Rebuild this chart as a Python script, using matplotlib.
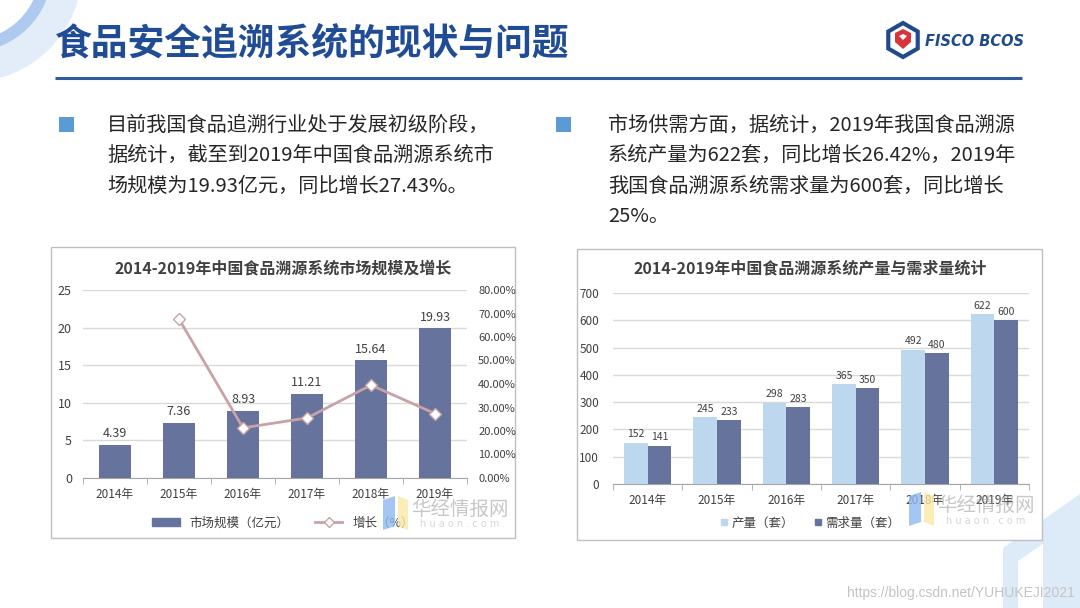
import numpy as np
import matplotlib
matplotlib.use("Agg")
import matplotlib.pyplot as plt
from matplotlib.patches import Rectangle, Polygon, Wedge, RegularPolygon, Patch
from matplotlib.lines import Line2D
from matplotlib.ticker import FuncFormatter, MultipleLocator

plt.rcParams["font.family"] = ["Noto Sans CJK SC", "DejaVu Sans"]

# ── Data ──────────────────────────────────────────────────────────────────────
years = ["2014年", "2015年", "2016年", "2017年", "2018年", "2019年"]
market_size = [4.39, 7.36, 8.93, 11.21, 15.64, 19.93]          # 亿元
growth_pct = [np.nan, 67.65, 21.33, 25.53, 39.52, 27.43]      # %
output_sets = [152, 245, 298, 365, 492, 622]                  # 产量（套）
demand_sets = [141, 233, 283, 350, 480, 600]                  # 需求量（套）

slide_title = "食品安全追溯系统的现状与问题"
left_text = [
    "目前我国食品追溯行业处于发展初级阶段，",
    "据统计，截至到2019年中国食品溯源系统市",
    "场规模为19.93亿元，同比增长27.43%。",
]
right_text = [
    "市场供需方面，据统计，2019年我国食品溯源",
    "系统产量为622套，同比增长26.42%，2019年",
    "我国食品溯源系统需求量为600套，同比增长",
    "25%。",
]
left_title = "2014-2019年中国食品溯源系统市场规模及增长"
right_title = "2014-2019年中国食品溯源系统产量与需求量统计"

W, H = 1080, 608
BAR_DARK = "#65739D"
BAR_LIGHT = "#BDD7EE"
LINE_PINK = "#C9A2A7"
GRID = "#D9D9D9"
AXIS = "#A6A6A6"
TXT = "#404040"
NAVY = "#1F4C95"


def frac(x0, y_top, x1, y_bot):
    """pixel box -> figure fraction [left, bottom, width, height]"""
    return [x0 / W, 1 - y_bot / H, (x1 - x0) / W, (y_bot - y_top) / H]


fig = plt.figure(figsize=(W / 100, H / 100), dpi=100)

# ── Background layer (pixel coordinates) ──────────────────────────────────────
bg = fig.add_axes([0, 0, 1, 1], zorder=-5)
bg.set_xlim(0, W)
bg.set_ylim(H, 0)
bg.axis("off")

# decorative arcs top-left
bg.add_patch(Wedge((-30, -30), 112, 0, 90, width=40, color="#E3EDF9", lw=0))
bg.add_patch(Wedge((-30, -30), 82, 0, 90, width=12, color="#AECBEF", lw=0))
# decorative band bottom-right
bg.add_patch(Polygon([(1003, 608), (1003, 548), (1080, 494), (1080, 518),
                      (1018, 561), (1018, 608)], closed=True, color="#DDEAF8", lw=0))
bg.add_patch(Polygon([(1043, 608), (1043, 535), (1080, 510), (1080, 608)],
                     closed=True, color="#DDEAF8", lw=0))

# slide title + rule
bg.text(55, 44, slide_title, fontsize=26.5, fontweight="bold", color=NAVY,
        va="center", ha="left")
bg.plot([55, 1022], [78, 78], color="#2F5D9B", lw=2.2, solid_capstyle="butt")

# logo
bg.add_patch(RegularPolygon((903, 40), numVertices=6, radius=17, orientation=0,
                            facecolor="white", edgecolor="#1F4A8C", lw=3))
bg.add_patch(Polygon([(895, 33), (903, 29), (911, 33), (911, 42), (903, 49),
                      (895, 42)], closed=True, color="#D8353B", lw=0))
bg.add_patch(Polygon([(899, 36), (903, 34), (907, 36), (903, 40)], closed=True,
                     color="white", lw=0))
bg.text(925, 41, "FISCO BCOS", fontsize=10.5, fontweight="bold", style="italic",
        color="#1F4A8C", va="center", ha="left", family="DejaVu Sans")

# bullets and paragraphs
bg.add_patch(Rectangle((59, 117), 15, 15, color="#5B9BD5", lw=0))
bg.add_patch(Rectangle((556, 117), 15, 15, color="#5B9BD5", lw=0))
for i, line in enumerate(left_text):
    bg.text(107, 125 + i * 30.5, line, fontsize=14.5, color="#262626",
            va="center", ha="left")
for i, line in enumerate(right_text):
    bg.text(608, 125 + i * 30.5, line, fontsize=14.5, color="#262626",
            va="center", ha="left")

# chart frames
bg.add_patch(Rectangle((51, 247), 464, 291, facecolor="white",
                       edgecolor="#BFBFBF", lw=1))
bg.add_patch(Rectangle((577, 249), 465, 291, facecolor="white",
                       edgecolor="#BFBFBF", lw=1))
bg.text(283, 268, left_title, fontsize=11.5, fontweight="bold", color=TXT,
        ha="center", va="center")
bg.text(810, 268, right_title, fontsize=11.5, fontweight="bold", color=TXT,
        ha="center", va="center")

x = np.arange(len(years))

# ── Left chart: market size + growth ─────────────────────────────────────────
ax1 = fig.add_axes(frac(83, 290, 467, 478))
ax1.patch.set_alpha(0)
ax1.bar(x, market_size, width=0.5, color=BAR_DARK, zorder=3)
for xi, v in zip(x, market_size):
    ax1.text(xi, v + 0.6, f"{v:.2f}", ha="center", va="bottom", fontsize=9,
             color=TXT, zorder=5)
ax1.set_xlim(-0.5, len(years) - 0.5)
ax1.set_ylim(0, 25)
ax1.yaxis.set_major_locator(MultipleLocator(5))
ax1.grid(axis="y", color=GRID, lw=1, zorder=0)
ax1.set_xticks(x)
ax1.set_xticklabels(years, fontsize=8.5, color=TXT)
ax1.set_xticks(np.arange(-0.5, len(years)), minor=True)
ax1.tick_params(axis="x", which="major", length=0, pad=7)
ax1.tick_params(axis="x", which="minor", length=4, color=AXIS)
ax1.tick_params(axis="y", length=0, labelsize=9, labelcolor=TXT, pad=8)
for s in ["top", "right", "left"]:
    ax1.spines[s].set_visible(False)
ax1.spines["bottom"].set_color(AXIS)

ax1b = ax1.twinx()
ax1b.plot(x, growth_pct, color=LINE_PINK, lw=2, marker="D", markersize=6,
          markerfacecolor="white", markeredgecolor=LINE_PINK, zorder=4)
ax1b.set_ylim(0, 80)
ax1b.yaxis.set_major_locator(MultipleLocator(10))
ax1b.yaxis.set_major_formatter(FuncFormatter(lambda v, _: f"{v:.2f}%"))
ax1b.tick_params(axis="y", length=0, labelsize=8, labelcolor=TXT, pad=8)
for s in ax1b.spines.values():
    s.set_visible(False)

fig.legend(
    handles=[Patch(color=BAR_DARK),
             Line2D([], [], color=LINE_PINK, lw=2, marker="D", markersize=5,
                    markerfacecolor="white", markeredgecolor=LINE_PINK)],
    labels=["市场规模（亿元）", "增长（%）"],
    loc="center", bbox_to_anchor=(283 / W, 1 - 523 / H), ncol=2,
    frameon=False, fontsize=9, handlelength=2.2, handleheight=0.6,
    columnspacing=2.0, labelcolor=TXT)

# ── Right chart: output vs demand ────────────────────────────────────────────
ax2 = fig.add_axes(frac(613, 293, 1029, 484))
ax2.patch.set_alpha(0)
bw = 0.34
ax2.bar(x - bw / 2, output_sets, width=bw, color=BAR_LIGHT, zorder=3)
ax2.bar(x + bw / 2, demand_sets, width=bw, color=BAR_DARK, zorder=3)
for xi, a, b in zip(x, output_sets, demand_sets):
    ax2.text(xi - bw / 2, a + 12, str(a), ha="center", va="bottom",
             fontsize=7.5, color=TXT, zorder=5)
    ax2.text(xi + bw / 2, b + 12, str(b), ha="center", va="bottom",
             fontsize=7.5, color=TXT, zorder=5)
ax2.set_xlim(-0.5, len(years) - 0.5)
ax2.set_ylim(0, 700)
ax2.yaxis.set_major_locator(MultipleLocator(100))
ax2.grid(axis="y", color=GRID, lw=1, zorder=0)
ax2.set_xticks(x)
ax2.set_xticklabels(years, fontsize=8.5, color=TXT)
ax2.set_xticks(np.arange(-0.5, len(years)), minor=True)
ax2.tick_params(axis="x", which="major", length=0, pad=7)
ax2.tick_params(axis="x", which="minor", length=4, color=AXIS)
ax2.tick_params(axis="y", length=0, labelsize=8.5, labelcolor=TXT, pad=10)
for s in ["top", "right", "left"]:
    ax2.spines[s].set_visible(False)
ax2.spines["bottom"].set_color(AXIS)

fig.legend(
    handles=[Line2D([], [], ls="none", marker="s", markersize=4, color=BAR_LIGHT),
             Line2D([], [], ls="none", marker="s", markersize=4, color=BAR_DARK)],
    labels=["产量（套）", "需求量（套）"],
    loc="center", bbox_to_anchor=(810 / W, 1 - 523 / H), ncol=2,
    frameon=False, fontsize=9, handlelength=0.6, handletextpad=0.3,
    columnspacing=1.6, labelcolor=TXT)

# ── Watermark overlay ────────────────────────────────────────────────────────
ov = fig.add_axes([0, 0, 1, 1], zorder=20)
ov.set_xlim(0, W)
ov.set_ylim(H, 0)
ov.axis("off")
ov.patch.set_alpha(0)
for lx, ty in [(383, 496), (909, 492)]:
    ov.add_patch(Polygon([(lx, ty + 4), (lx + 12, ty), (lx + 12, ty + 30),
                          (lx, ty + 34)], closed=True, color="#8DB8F0",
                         alpha=0.8, lw=0))
    ov.add_patch(Polygon([(lx + 15, ty), (lx + 25, ty + 4), (lx + 25, ty + 34),
                          (lx + 15, ty + 30)], closed=True, color="#F9E9A6",
                         alpha=0.8, lw=0))
ov.text(460, 509, "华经情报网", fontsize=14, color="#9A9A9A", alpha=0.55,
        ha="center", va="center")
ov.text(460, 524, "h u a o n . c o m", fontsize=7, color="#BBBBBB",
        alpha=0.6, ha="center", va="center", family="DejaVu Sans")
ov.text(986, 505, "华经情报网", fontsize=14, color="#9A9A9A", alpha=0.55,
        ha="center", va="center")
ov.text(986, 521, "h u a o n . c o m", fontsize=7, color="#BBBBBB",
        alpha=0.6, ha="center", va="center", family="DejaVu Sans")
ov.text(1075, 593, "https://blog.csdn.net/YUHUKEJI2021", fontsize=10,
        color="#C4C4C4", ha="right", va="center", family="Liberation Sans")

fig.savefig("out.png", dpi=100)
